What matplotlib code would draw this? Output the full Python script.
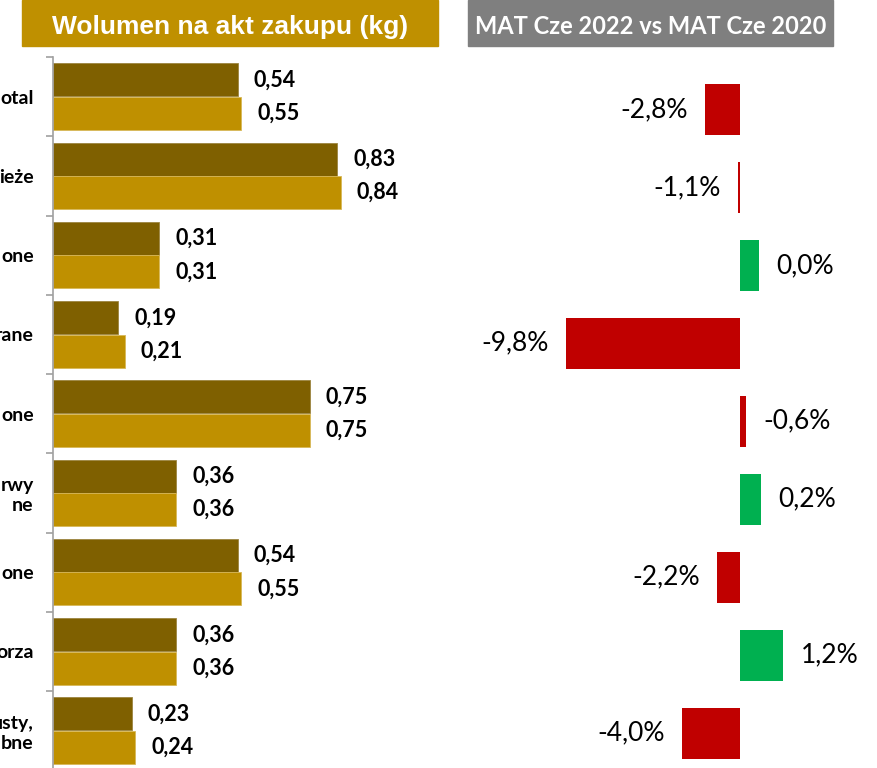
import matplotlib
matplotlib.use("Agg")
import matplotlib.pyplot as plt
from matplotlib.patches import Rectangle

plt.rcParams.update({"font.family": ["Lato", "DejaVu Sans"], "figure.facecolor": "white"})

C_DARK, C_GOLD = "#7F6000", "#BF9000"
C_RED, C_GREEN, C_GREY = "#C00000", "#00B050", "#7F7F7F"

# category labels as visible (cut at the left edge of the source image)
categories = ["otal", "ieże", "one", "rane", "one", "rwy\nne", "one", "orza", "usty,\nbne"]
vol_2022 = [0.54, 0.83, 0.31, 0.19, 0.75, 0.36, 0.54, 0.36, 0.23]
vol_2020 = [0.55, 0.84, 0.31, 0.21, 0.75, 0.36, 0.55, 0.36, 0.24]
change_pct = [-2.8, -1.1, 0.0, -9.8, -0.6, 0.2, -2.2, 1.2, -4.0]
# bar lengths as drawn in the source graphic (not proportional to the labels)
drawn_len = [-1.97, -0.11, 1.07, -9.8, 0.34, 1.18, -1.30, 2.42, -3.27]

W, H = 877, 768
fig = plt.figure(figsize=(W / 100, H / 100), dpi=100)

def fx(px): return px / W
def fy(py): return 1 - py / H

# ---- headers ----
fig.patches.append(Rectangle((fx(22), fy(45.7)), fx(416), 45.7 / H, transform=fig.transFigure,
                             color=C_GOLD, zorder=0))
fig.text(fx(230), fy(34), "Wolumen na akt zakupu (kg)", ha="center", va="baseline",
         color="white", fontsize=19, fontweight="bold", family="Liberation Sans")
fig.patches.append(Rectangle((fx(468), fy(45.7)), fx(365), 45.7 / H, transform=fig.transFigure,
                             color=C_GREY, zorder=0))
fig.text(fx(651), fy(34), "MAT Cze 2022 vs MAT Cze 2020", ha="center", va="baseline",
         color="white", fontsize=17, fontweight="bold")

# ---- left: volume per purchase ----
n = len(categories)
ax = fig.add_axes([fx(53), (H - 770.25) / H, fx(387), 713.25 / H])
y = list(range(n))
ax.barh([i - 0.21 for i in y], vol_2022, height=0.416, color=C_DARK, edgecolor="#9C8540", lw=0.6)
ax.barh([i + 0.21 for i in y], vol_2020, height=0.416, color=C_GOLD, edgecolor="#D8B858", lw=0.6)
for i in y:
    ax.annotate(f"{vol_2022[i]:.2f}".replace(".", ","), (vol_2022[i], i - 0.21), xytext=(11.5, 0),
                textcoords="offset points", va="center", ha="left", fontsize=15.5, fontweight="bold")
    ax.annotate(f"{vol_2020[i]:.2f}".replace(".", ","), (vol_2020[i], i + 0.21), xytext=(11.5, 0),
                textcoords="offset points", va="center", ha="left", fontsize=15.5, fontweight="bold")
ax.set_xlim(0, 1.13)
ax.set_ylim(n - 0.5, -0.5)
ax.set_yticks(y)
ax.set_yticklabels(categories, fontsize=14, fontweight="bold")
ax.tick_params(axis="y", which="major", length=0, pad=14)
ax.set_yticks([i - 0.5 for i in range(n + 1)], minor=True)
ax.tick_params(axis="y", which="minor", length=5, color="#A0A0A0", width=1.2)
ax.set_xticks([])
for s in ("top", "right", "bottom"):
    ax.spines[s].set_visible(False)
ax.spines["left"].set_color("#A0A0A0")
ax.spines["left"].set_linewidth(1.2)

# ---- right: change vs 2020 ----
ax2 = fig.add_axes([fx(440), (H - 772) / H, fx(437), 701.5 / H])
cols = [C_GREEN if v >= 0 else C_RED for v in change_pct]
ax2.barh(y, drawn_len, height=0.655, color=cols, lw=0)
for i in y:
    lab = f"{change_pct[i]:.1f}%".replace(".", ",")
    if drawn_len[i] < 0:
        ax2.annotate(lab, (drawn_len[i], i), xytext=(-12.5, 0), textcoords="offset points",
                     ha="right", va="center", fontsize=19)
    else:
        ax2.annotate(lab, (drawn_len[i], i), xytext=(12.5, 0), textcoords="offset points",
                     ha="left", va="center", fontsize=19)
ax2.set_xlim(-16.9, 7.7)
ax2.set_ylim(n - 0.5, -0.5)
ax2.axis("off")

fig.savefig("out.png", dpi=100)
